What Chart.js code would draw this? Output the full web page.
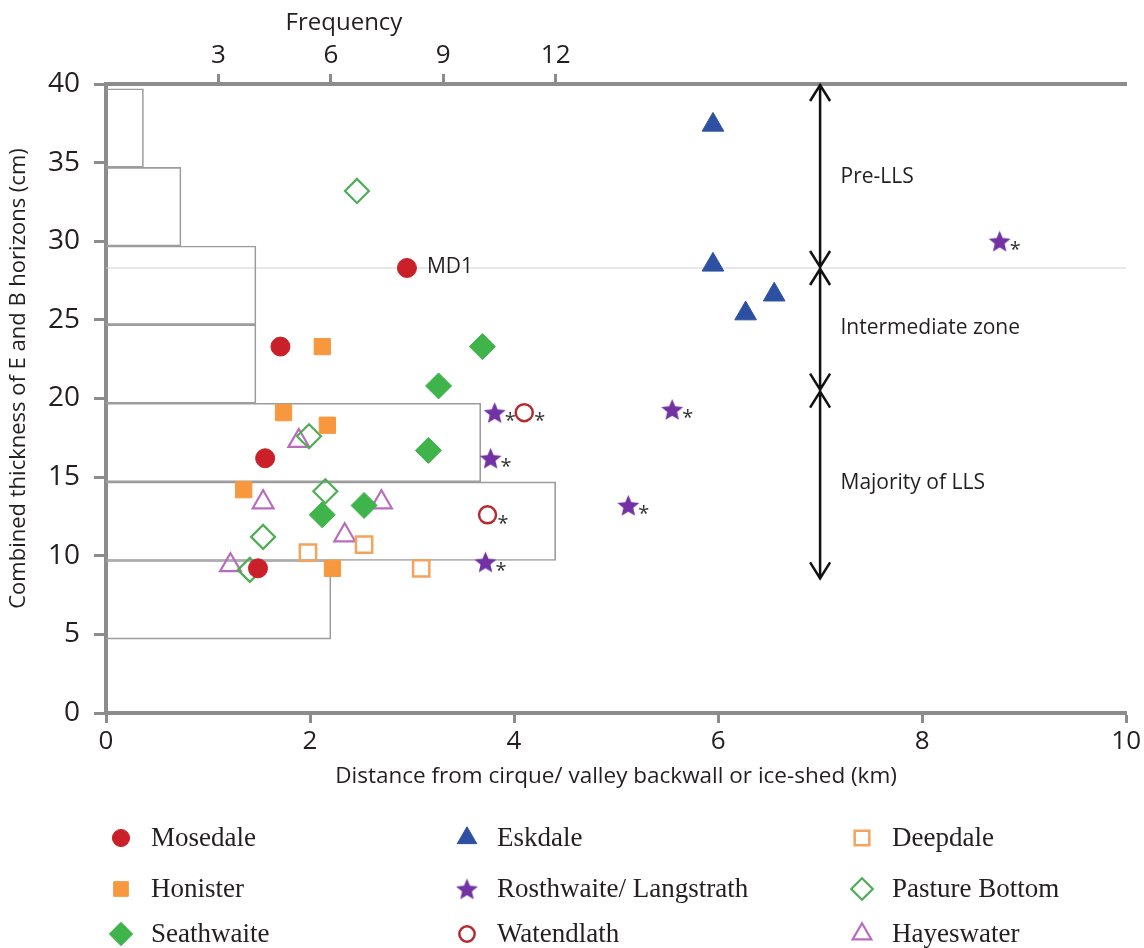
<!DOCTYPE html>
<html>
<head>
<meta charset="utf-8">
<script src="https://cdn.jsdelivr.net/npm/chart.js@4.4.1/dist/chart.umd.min.js"></script>
<style>
  html, body { margin: 0; padding: 0; background: #fff; }
  #wrap { width: 1144px; height: 948px; }
</style>
</head>
<body>
<div id="wrap"><canvas id="chart" width="1144" height="948"></canvas></div>
<script>
// Sites (x = distance km, y = thickness cm)
const siteNames = ['Mosedale', 'Honister', 'Seathwaite', 'Eskdale', 'Rosthwaite/ Langstrath',
                   'Watendlath', 'Deepdale', 'Pasture Bottom', 'Hayeswater'];
const mosedale   = [[2.95, 28.3], [1.71, 23.3], [1.56, 16.2], [1.49, 9.2]];
const honister   = [[2.12, 23.3], [1.74, 19.1], [2.17, 18.3], [1.35, 14.2], [2.22, 9.2]];
const seathwaite = [[3.69, 23.3], [3.26, 20.8], [3.16, 16.7], [2.12, 12.6], [2.53, 13.2]];
const eskdale    = [[5.95, 37.4], [5.95, 28.5], [6.55, 26.6], [6.27, 25.4]];
const rosthwaite = [[8.76, 30.0], [5.55, 19.3], [5.12, 13.2], [3.81, 19.1], [3.77, 16.2], [3.72, 9.6]];
const watendlath = [[4.10, 19.1], [3.74, 12.6]];
const deepdale   = [[1.98, 10.2], [2.53, 10.7], [3.09, 9.2]];
const pasture    = [[2.46, 33.2], [1.99, 17.6], [2.15, 14.1], [1.54, 11.2], [1.41, 9.1]];
const hayeswater = [[1.89, 17.3], [1.54, 13.4], [1.22, 9.4], [2.34, 11.3], [2.70, 13.4]];
const siteData = [mosedale, honister, seathwaite, eskdale, rosthwaite, watendlath, deepdale, pasture, hayeswater];

// sites marked with an asterisk
const starredSites = ['Rosthwaite/ Langstrath', 'Watendlath'];

// Histogram of thickness (frequency, top axis)
const binStarts = [4.7, 9.7, 14.7, 19.7, 24.7, 29.7, 34.7];
const binWidth = 5;
const binCounts = [6, 12, 10, 4, 4, 2, 1];

// Axis ticks
const distTicks = [0, 2, 4, 6, 8, 10];
const thickTicks = [0, 5, 10, 15, 20, 25, 30, 35, 40];
const freqTicks = [3, 6, 9, 12];

// Zones
const zoneLine = 28.3;
const zoneArrowX = 7;
const zoneBounds = [40, 28.3, 20.5, 8.5];
const zoneLabels = ['Pre-LLS', 'Intermediate zone', 'Majority of LLS'];
const zoneLabelY = [34.1, 24.5, 14.6];
const zoneLabelX = 7.2;

const SANS = '"Open Sans", "Noto Sans", sans-serif';
const SERIF = '"Liberation Serif", "DejaVu Serif", serif';
const TEXT = '#231f20';
const AXIS = '#8c8c8c';

// filled five point star used for Rosthwaite
function makeStar(color, outer, inner) {
    const c = document.createElement('canvas');
    const s = Math.ceil(outer * 2 + 2);
    c.width = s; c.height = s;
    const g = c.getContext('2d');
    g.beginPath();
    for (let k = 0; k < 10; k++) {
        const rr = k % 2 ? inner : outer;
        const a = -Math.PI / 2 + k * Math.PI / 5;
        g.lineTo(s / 2 + rr * Math.cos(a), s / 2 + 1 + rr * Math.sin(a));
    }
    g.closePath();
    g.fillStyle = color;
    g.fill();
    return c;
}
const starImg = makeStar('#7232a4', 11.5, 5.2);

const siteStyles = [
    { style: 'circle',   fill: '#c9202a', line: '#c9202a', r: 9.5, w: 1 },
    { style: 'rect',     fill: '#f7983f', line: '#f7983f', r: 11.5, w: 1 },
    { style: 'rectRot',  fill: '#3fb44b', line: '#3fb44b', r: 13, w: 1 },
    { style: 'triangle', fill: '#2d50a3', line: '#2d50a3', r: 12.5, w: 1 },
    { style: starImg,    fill: '#7232a4', line: '#7232a4', r: 11, w: 0 },
    { style: 'circle',   fill: 'rgba(0,0,0,0)', line: '#b72a30', r: 8.5, w: 2.5 },
    { style: 'rect',     fill: 'rgba(0,0,0,0)', line: '#f3a35e', r: 11.5, w: 2.5 },
    { style: 'rectRot',  fill: 'rgba(0,0,0,0)', line: '#4fae55', r: 12, w: 2.2 },
    { style: 'triangle', fill: 'rgba(0,0,0,0)', line: '#b86cbf', r: 12, w: 2.2 }
];

const scatterSets = siteNames.map((name, i) => ({
    type: 'scatter',
    label: name,
    data: siteData[i].map(p => ({ x: p[0], y: p[1] })),
    xAxisID: 'x',
    yAxisID: 'y',
    pointStyle: siteStyles[i].style,
    pointRadius: siteStyles[i].r,
    pointBackgroundColor: siteStyles[i].fill,
    pointBorderColor: siteStyles[i].line,
    pointBorderWidth: siteStyles[i].w,
    order: 1
}));

const histSet = {
    type: 'bar',
    label: 'Frequency',
    indexAxis: 'y',
    xAxisID: 'x2',
    yAxisID: 'y',
    data: binStarts.map((b, i) => ({ y: b + binWidth / 2, x: binCounts[i] })),
    backgroundColor: 'rgba(0,0,0,0)',
    borderColor: '#9c9c9c',
    borderWidth: 1,
    grouped: false,
    barPercentage: 1,
    categoryPercentage: 1,
    order: 10
};

const zoneSet = {
    type: 'line',
    label: 'zone',
    xAxisID: 'x',
    yAxisID: 'y',
    data: [{ x: distTicks[0], y: zoneLine }, { x: distTicks[distTicks.length - 1], y: zoneLine }],
    borderColor: '#d2d2d2',
    borderWidth: 1.2,
    pointRadius: 0,
    order: 20
};

function tickGrid(len) {
    return { drawOnChartArea: false, drawTicks: true, tickLength: len, tickColor: AXIS, tickWidth: 3, offset: false };
}

// asterisks, MD1, zone arrows, frequency title
const annotations = {
    id: 'annotations',
    afterDatasetsDraw(chart) {
        const { ctx } = chart;
        const xs = chart.scales.x, ys = chart.scales.y, fs = chart.scales.x2;
        ctx.save();
        ctx.textBaseline = 'middle';

        ctx.fillStyle = '#333';
        ctx.font = '20px ' + SANS;
        ctx.textAlign = 'left';
        chart.data.datasets.forEach((ds, i) => {
            if (!starredSites.includes(ds.label)) return;
            chart.getDatasetMeta(i).data.forEach(pt => {
                ctx.fillText('*', pt.x + 10, pt.y + 9);
            });
        });

        // MD1 label on first Mosedale point
        ctx.fillStyle = TEXT;
        const md = chart.getDatasetMeta(0).data[0];
        ctx.font = '21px ' + SANS;
        ctx.fillText('MD1', md.x + 20, md.y - 1);

        // double headed arrows
        const ax = xs.getPixelForValue(zoneArrowX);
        ctx.strokeStyle = '#111';
        ctx.lineWidth = 2.5;
        for (let i = 0; i < zoneBounds.length - 1; i++) {
            const y1 = ys.getPixelForValue(zoneBounds[i]);
            const y2 = ys.getPixelForValue(zoneBounds[i + 1]);
            ctx.beginPath();
            ctx.moveTo(ax, y1); ctx.lineTo(ax, y2);
            ctx.moveTo(ax - 10, y1 + 17); ctx.lineTo(ax, y1 + 1); ctx.lineTo(ax + 10, y1 + 17);
            ctx.moveTo(ax - 10, y2 - 17); ctx.lineTo(ax, y2 - 1); ctx.lineTo(ax + 10, y2 - 17);
            ctx.stroke();
        }
        ctx.font = '21px ' + SANS;
        zoneLabels.forEach((t, i) => {
            ctx.fillText(t, xs.getPixelForValue(zoneLabelX), ys.getPixelForValue(zoneLabelY[i]));
        });

        // top axis title
        ctx.font = '24px ' + SANS;
        ctx.textAlign = 'center';
        ctx.fillText('Frequency', fs.getPixelForValue(6.35), 23);
        ctx.restore();
    }
};

// legend in three columns under the chart
const legendCols = [121, 467, 862];
const legendRows = [838, 889, 934];
const gridLegend = {
    id: 'gridLegend',
    afterDraw(chart) {
        const { ctx } = chart;
        const drawPoint = Chart.helpers && Chart.helpers.drawPoint;
        ctx.save();
        siteNames.forEach((name, i) => {
            const mx = legendCols[Math.floor(i / 3)];
            const my = legendRows[i % 3];
            const st = siteStyles[i];
            ctx.fillStyle = st.fill;
            ctx.strokeStyle = st.line;
            ctx.lineWidth = st.w;
            if (drawPoint) {
                drawPoint(ctx, { pointStyle: st.style, radius: st.r * 0.9, rotation: 0, borderWidth: st.w }, mx, my);
            }
            ctx.fillStyle = TEXT;
            ctx.font = '27px ' + SERIF;
            ctx.textAlign = 'left';
            ctx.textBaseline = 'middle';
            ctx.fillText(name, mx + 30, my + 1);
        });
        ctx.restore();
    }
};

new Chart(document.getElementById('chart'), {
    type: 'scatter',
    data: { datasets: [...scatterSets, histSet, zoneSet] },
    options: {
        responsive: false,
        animation: false,
        events: [],
        layout: { padding: { top: 0, left: 0, right: 0, bottom: 155 } },
        plugins: { legend: { display: false }, tooltip: { enabled: false } },
        scales: {
            x: {
                type: 'linear', axis: 'x', position: 'bottom', min: 0, max: 10,
                afterBuildTicks: s => { s.ticks = distTicks.map(v => ({ value: v })); },
                ticks: { color: TEXT, font: { family: SANS, size: 26 }, padding: 3 },
                grid: tickGrid(10),
                border: { display: true, color: AXIS, width: 4 },
                title: {
                    display: true, text: 'Distance from cirque/ valley backwall or ice-shed (km)',
                    color: TEXT, font: { family: SANS, size: 22.5 }, padding: { top: 0, bottom: 3 }
                },
                afterFit: s => { s.height = 80; }
            },
            x2: {
                type: 'linear', axis: 'x', position: 'top', min: 0, max: 27.22,
                afterBuildTicks: s => { s.ticks = freqTicks.map(v => ({ value: v })); },
                ticks: { color: TEXT, font: { family: SANS, size: 26 }, padding: 3 },
                grid: tickGrid(10),
                border: { display: true, color: AXIS, width: 4 },
                afterFit: s => { s.height = 84; }
            },
            y: {
                type: 'linear', axis: 'y', position: 'left', min: 0, max: 40, offset: false,
                afterBuildTicks: s => { s.ticks = thickTicks.map(v => ({ value: v })); },
                ticks: { color: TEXT, font: { family: SANS, size: 28 }, padding: 14 },
                grid: tickGrid(12),
                border: { display: true, color: AXIS, width: 4 },
                title: {
                    display: true,
                    // leading spaces lift the centred title a little, as in the original
                    text: '\u00a0\u00a0\u00a0\u00a0\u00a0\u00a0\u00a0Combined thickness of E and B horizons (cm)',
                    color: TEXT, font: { family: SANS, size: 22 }, padding: { top: 6, bottom: 0 }
                },
                afterFit: s => { s.width = 106; }
            }
        }
    },
    plugins: [annotations, gridLegend]
});
</script>
</body>
</html>
